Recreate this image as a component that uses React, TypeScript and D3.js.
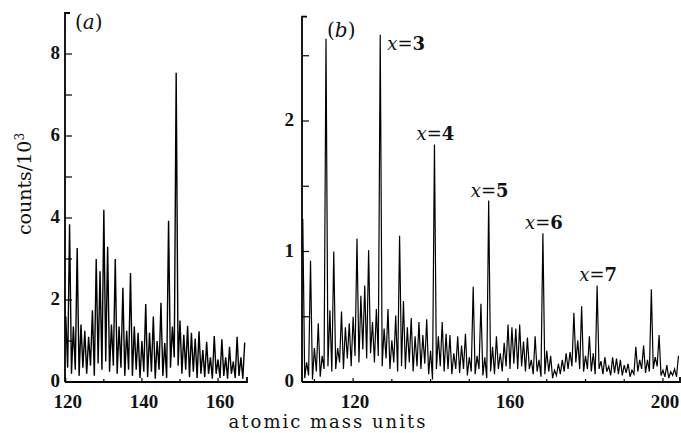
import React from "react";
import * as d3 from "d3";

// ---------- data ----------
// panel (a): one peak per mass unit starting at 120 amu, valleys between neighbouring peaks
const firstMassA = 120;
const peaksA = [
  1.6, 3.85, 1.35, 3.27, 1.4, 1.25, 1.1, 1.75, 3.0, 2.7,
  4.2, 3.3, 1.4, 3.0, 1.35, 2.3, 1.25, 2.66, 1.35, 1.2,
  1.0, 1.9, 1.2, 1.6, 1.0, 1.93, 0.95, 3.93, 1.35, 7.54,
  1.5, 1.15, 1.37, 1.2, 1.06, 1.24, 0.78, 0.98, 0.6, 1.12,
  0.55, 1.04, 0.6, 0.86, 0.5, 1.1, 0.6, 0.96,
];
const valleysA = [
  0.35, 0.2, 0.3, 0.15, 0.35, 0.2, 0.4, 0.15, 0.45, 0.3,
  0.5, 0.25, 0.4, 0.2, 0.35, 0.15, 0.3, 0.15, 0.3, 0.1,
  0.25, 0.12, 0.25, 0.08, 0.3, 0.15, 0.1, 0.35, 0.6, 0.4,
  0.2, 0.3, 0.12, 0.25, 0.1, 0.2, 0.12, 0.2, 0.08, 0.2,
  0.1, 0.15, 0.08, 0.2, 0.1, 0.15, 0.08,
];

// panel (b): one peak per mass unit starting at 107 amu
const firstMassB = 107;
const peaksB = [
  1.25, 0.15, 0.93, 0.26, 0.45, 0.2, 2.63, 0.55, 1.0, 0.26,
  0.54, 0.42, 0.45, 0.5, 1.1, 0.66, 0.74, 1.01, 0.46, 0.56,
  2.66, 0.41, 0.56, 0.32, 0.51, 1.12, 0.62, 0.42, 0.49, 0.35,
  0.46, 0.36, 0.48, 0.24, 1.82, 0.35, 0.46, 0.37, 0.36, 0.22,
  0.35, 0.28, 0.37, 0.19, 0.73, 0.2, 0.6, 0.19, 1.39, 0.27,
  0.35, 0.22, 0.3, 0.44, 0.42, 0.41, 0.44, 0.31, 0.34, 0.17,
  0.35, 0.17, 1.14, 0.24, 0.2, 0.09, 0.14, 0.17, 0.22, 0.23,
  0.53, 0.32, 0.58, 0.2, 0.35, 0.22, 0.74, 0.16, 0.19, 0.12,
  0.19, 0.18, 0.17, 0.13, 0.14, 0.09, 0.27, 0.17, 0.28, 0.17,
  0.71, 0.19, 0.36, 0.09, 0.13, 0.08, 0.1, 0.2,
];
const valleysB = [
  0.03, 0.05, 0.02, 0.08, 0.04, 0.1, 0.12, 0.08, 0.1, 0.15,
  0.1, 0.18, 0.12, 0.2, 0.15, 0.25, 0.18, 0.22, 0.15, 0.2,
  0.12, 0.18, 0.1, 0.15, 0.08, 0.12, 0.1, 0.15, 0.08, 0.12,
  0.1, 0.14, 0.06, 0.02, 0.1, 0.12, 0.08, 0.1, 0.06, 0.1,
  0.07, 0.1, 0.05, 0.08, 0.06, 0.1, 0.05, 0.03, 0.08, 0.06,
  0.1, 0.08, 0.12, 0.1, 0.14, 0.1, 0.12, 0.08, 0.1, 0.06,
  0.08, 0.04, 0.06, 0.08, 0.03, 0.05, 0.06, 0.08, 0.1, 0.12,
  0.15, 0.1, 0.08, 0.1, 0.08, 0.06, 0.1, 0.06, 0.08, 0.05,
  0.07, 0.06, 0.05, 0.07, 0.04, 0.06, 0.08, 0.1, 0.07, 0.08,
  0.1, 0.12, 0.05, 0.04, 0.03, 0.05, 0.04,
];

const yTicksA = [0, 2, 4, 6, 8];
const yMinorA = [1, 3, 5, 7];
const xTicksA = [120, 140, 160];
const xMinorA = [130, 150];
const yTicksB = [0, 1, 2];
const yMinorB = [0.5, 1.5, 2.5];
const xTicksB = [120, 160, 200];
const xMinorB = [110, 130, 140, 150, 170, 180, 190];

const clusterLabels = ["3", "4", "5", "6", "7"];
const clusterMasses = [127, 141, 155, 169, 183];

// ---------- layout ----------
const W = 681;
const H = 433;
const base = 382;

const xA = d3.scaleLinear().domain([119.8, 167.6]).range([65, 247]);
const yA = d3.scaleLinear().domain([0, 9]).range([base, 13]);
const xB = d3.scaleLinear().domain([106.8, 204.4]).range([302, 680]);
const yB = d3.scaleLinear().domain([0, 2.8]).range([base, 16.6]);

const digitFont = "'Liberation Serif', 'Times New Roman', serif";
const textFont = "'DejaVu Serif', serif";

function buildSeries(first: number, peaks: number[], valleys: number[]) {
  const pts: [number, number][] = [];
  peaks.forEach((p, i) => {
    pts.push([first + i, p]);
    if (i < valleys.length && i < peaks.length - 1) pts.push([first + i + 0.5, valleys[i]]);
  });
  return pts;
}

type Scale = d3.ScaleLinear<number, number>;

function Panel({
  x, y, pts, yMajor, yMinor, xMajor, xMinor, yLabelGap, strokeW,
}: {
  x: Scale; y: Scale; pts: [number, number][];
  yMajor: number[]; yMinor: number[]; xMajor: number[]; xMinor: number[]; yLabelGap: number; strokeW: number;
}) {
  const [x0, x1] = x.range();
  const [y0, y1] = y.range();
  const line = d3.line<[number, number]>().x((d) => x(d[0])).y((d) => y(d[1]));
  return (
    <g>
      <path d={line(pts) || ""} fill="none" stroke="#000" strokeWidth={strokeW} strokeLinejoin="miter" />
      <path d={`M${x0 + 5},${y1} H${x0} V${y0}`} fill="none" stroke="#000" strokeWidth={1.8} />
      <path d={`M${x0},${y0} H${x1} V${y0 - 5}`} fill="none" stroke="#000" strokeWidth={1.8} />
      {yMajor.map((v) => (
        <g key={"ym" + v}>
          <line x1={x0} x2={x0 + 7} y1={y(v)} y2={y(v)} stroke="#000" strokeWidth={1.2} />
          <text
            x={x0 - yLabelGap}
            y={y(v) - 1}
            dy="0.33em"
            textAnchor="end"
            fontFamily={digitFont}
            fontWeight="bold"
            fontSize={19}
            fill="#111"
          >
            {v}
          </text>
        </g>
      ))}
      {yMinor.map((v) => (
        <line key={"yn" + v} x1={x0} x2={x0 + 7} y1={y(v)} y2={y(v)} stroke="#000" strokeWidth={1.2} />
      ))}
      {xMajor.map((v) => (
        <g key={"xm" + v}>
          <line x1={x(v)} x2={x(v)} y1={y0} y2={y0 - 4} stroke="#000" strokeWidth={1.2} />
          <text
            x={x(v) + 2}
            y={408}
            textAnchor="middle"
            fontFamily={digitFont}
            fontWeight="bold"
            fontSize={19}
            fill="#111"
          >
            {v}
          </text>
        </g>
      ))}
      {xMinor.map((v) => (
        <line key={"xn" + v} x1={x(v)} x2={x(v)} y1={y0} y2={y0 - 3} stroke="#000" strokeWidth={1.2} />
      ))}
    </g>
  );
}

export default function App() {
  const ptsA = buildSeries(firstMassA, peaksA, valleysA);
  const ptsB = buildSeries(firstMassB, peaksB, valleysB);

  return (
    <svg
      width={W}
      height={H}
      viewBox={`0 0 ${W} ${H}`}
      style={{ position: "absolute", left: 0, top: 0, display: "block", background: "#fff" }}
    >
      <rect width={W} height={H} fill="#fff" />
      <Panel x={xA} y={yA} pts={ptsA} yMajor={yTicksA} yMinor={yMinorA} xMajor={xTicksA} xMinor={xMinorA} yLabelGap={5} strokeW={1.4} />
      <Panel x={xB} y={yB} pts={ptsB} yMajor={yTicksB} yMinor={yMinorB} xMajor={xTicksB} xMinor={xMinorB} yLabelGap={8} strokeW={1.2} />

      <text x={75} y={29} fontFamily={textFont} fontSize={20} fill="#111">
        (<tspan fontStyle="italic">a</tspan>)
      </text>
      <text x={327} y={37} fontFamily={textFont} fontSize={20} fill="#111">
        (<tspan fontStyle="italic">b</tspan>)
      </text>

      {clusterLabels.map((lab, i) => {
        const m = clusterMasses[i];
        const h = peaksB[m - firstMassB];
        const px = xB(m);
        const py = yB(h);
        const first = i === 0;
        return (
          <text
            key={lab}
            x={first ? px + 7 : px + 1}
            y={first ? py + 15 : py - 4}
            textAnchor={first ? "start" : "middle"}
            fontFamily={textFont}
            fontSize={18}
            fill="#111"
          >
            <tspan fontStyle="italic">x</tspan>
            <tspan>=</tspan>
            <tspan fontWeight="bold">{lab}</tspan>
          </text>
        );
      })}

      <text
        transform="translate(31,184) rotate(-90)"
        textAnchor="middle"
        fontFamily={textFont}
        fontSize={19}
        fill="#111"
      >
        counts/10<tspan dy={-7} fontSize={12}>3</tspan>
      </text>
      <text
        x={328}
        y={428}
        textAnchor="middle"
        fontFamily={textFont}
        fontSize={18}
        letterSpacing={2}
        fill="#111"
      >
        atomic mass units
      </text>
    </svg>
  );
}
